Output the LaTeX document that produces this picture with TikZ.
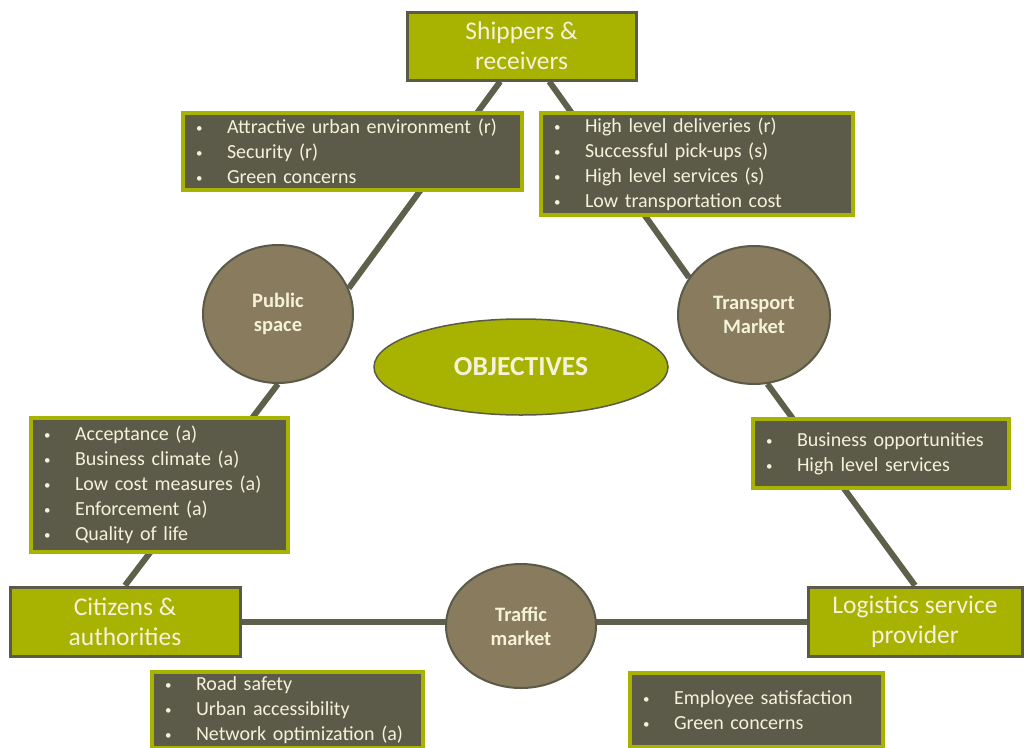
\documentclass[tikz,border=0pt]{standalone}
\usepackage{fontspec}
\setmainfont{Carlito}
\usetikzlibrary{shapes.geometric,backgrounds}
\definecolor{olivebox}{HTML}{A8B200}
\definecolor{darkbox}{HTML}{5C5B4A}
\definecolor{brownmk}{HTML}{887B5E}
\definecolor{edgegray}{HTML}{5B5A48}
\definecolor{linkgray}{HTML}{5F604C}
\definecolor{cream}{HTML}{F5F2DA}
\newcommand{\bl}{\makebox[31pt][l]{\raisebox{1pt}{\fontsize{13}{13}\selectfont\textbullet}}}

\begin{document}
\begin{tikzpicture}[x=1pt, y=-1pt,
    actor/.style = {draw=edgegray, line width=3pt, fill=olivebox, text=cream, rectangle, align=center, inner sep=0pt, font=\fontsize{25.5}{30}\selectfont},
    items/.style = {draw=olivebox, line width=4pt, fill=darkbox, text=cream, rectangle, align=left, text width=#1, inner xsep=13pt, inner ysep=0pt, font=\fontsize{20}{25}\selectfont},
    market/.style = {draw=edgegray, line width=2pt, fill=brownmk, text=cream, ellipse, inner sep=0pt, align=center, font=\bfseries\fontsize{20.5}{24}\selectfont},
    link/.style = {draw=linkgray, line width=6pt}]
                \useasboundingbox (0,0) rectangle (1024,747);

                \node[actor, minimum width=229pt, minimum height=68pt] (ship) at (521.5,46) {Shippers \&\\receivers};
                \node[actor, minimum width=230pt, minimum height=69pt] (cit) at (125,621.5) {Citizens \&\\authorities};
                \node[actor, minimum width=214pt, minimum height=69pt] (lsp) at (915,621.5) {Logistics service\\provider};

                \node[market, minimum width=150pt, minimum height=138pt] (pub) at (278,314) {Public\\space};
                \node[market, minimum width=152pt, minimum height=138pt] (tm) at (754,315) {Transport\\Market};
                \node[market, minimum width=150pt, minimum height=124pt] (tr) at (521,626) {Traffic\\market};

                \node[ellipse, draw=edgegray, line width=1.5pt, fill=olivebox, text=cream, inner sep=0pt, minimum width=294pt, minimum height=96pt, font=\bfseries\fontsize{27.5}{30}\selectfont] (obj) at (521,367) {OBJECTIVES};

                \node[items=313pt, minimum height=77pt] (l1) at (352.5,151.5) {\bl Attractive urban environment (r)\\\bl Security (r)\\\bl Green concerns};
                \node[items=286pt, minimum height=102pt] (l2) at (697,164) {\bl High level deliveries (r)\\\bl Successful pick-ups (s)\\\bl High level services (s)\\\bl Low transportation cost};
                \node[items=231pt, minimum height=134pt] (l3) at (159.5,485) {\bl Acceptance (a)\\\bl Business climate (a)\\\bl Low cost measures (a)\\\bl Enforcement (a)\\\bl Quality of life};
                \node[items=230pt, minimum height=69pt] (l4) at (881,453.5) {\bl Business opportunities\\\bl High level services};
                \node[items=245pt, minimum height=76pt] (l5) at (287.5,710) {\bl Road safety\\\bl Urban accessibility\\\bl Network optimization (a)};
                \node[items=227pt, minimum height=74pt] (l6) at (756.5,710) {\bl Employee satisfaction\\\bl Green concerns};

                % links behind the boxes
                \begin{scope}[on background layer]
                \draw[link] (ship.239) -- (pub.20);
                \draw[link] (pub.south) -- (cit.north);
                \draw[link] (ship.308) -- (tm.150);
                \draw[link] (tm.281) -- (lsp.north);
                \draw[link] (cit) -- (lsp);
                \end{scope}
            \end{tikzpicture}
\end{document}
